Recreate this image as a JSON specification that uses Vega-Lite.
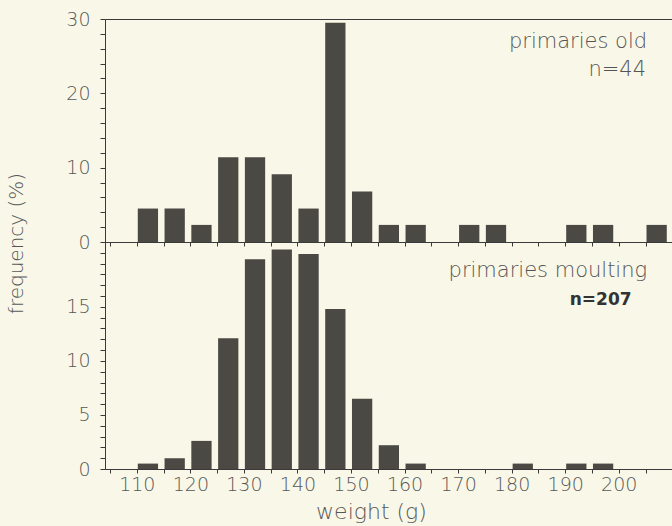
{
  "$schema": "https://vega.github.io/schema/vega-lite/v6.json",
  "background": "#f9f7e7",
  "padding": {"left": 5, "top": 9, "right": 0, "bottom": 5},
  "datasets": {
    "old": [
      {"start": 110, "end": 115, "pct": 4.5},
      {"start": 115, "end": 120, "pct": 4.5},
      {"start": 120, "end": 125, "pct": 2.3},
      {"start": 125, "end": 130, "pct": 11.4},
      {"start": 130, "end": 135, "pct": 11.4},
      {"start": 135, "end": 140, "pct": 9.1},
      {"start": 140, "end": 145, "pct": 4.5},
      {"start": 145, "end": 150, "pct": 29.5},
      {"start": 150, "end": 155, "pct": 6.8},
      {"start": 155, "end": 160, "pct": 2.3},
      {"start": 160, "end": 165, "pct": 2.3},
      {"start": 170, "end": 175, "pct": 2.3},
      {"start": 175, "end": 180, "pct": 2.3},
      {"start": 190, "end": 195, "pct": 2.3},
      {"start": 195, "end": 200, "pct": 2.3},
      {"start": 205, "end": 210, "pct": 2.3}
    ],
    "moult": [
      {"start": 110, "end": 115, "pct": 0.5},
      {"start": 115, "end": 120, "pct": 1.0},
      {"start": 120, "end": 125, "pct": 2.6},
      {"start": 125, "end": 130, "pct": 12.1},
      {"start": 130, "end": 135, "pct": 19.4},
      {"start": 135, "end": 140, "pct": 20.3},
      {"start": 140, "end": 145, "pct": 19.9},
      {"start": 145, "end": 150, "pct": 14.8},
      {"start": 150, "end": 155, "pct": 6.5},
      {"start": 155, "end": 160, "pct": 2.2},
      {"start": 160, "end": 165, "pct": 0.5},
      {"start": 180, "end": 185, "pct": 0.5},
      {"start": 190, "end": 195, "pct": 0.5},
      {"start": 195, "end": 200, "pct": 0.5}
    ],
    "notes_old": [
      {"label": "primaries old", "x": 205.3, "y": 26.9},
      {"label": "n=44", "x": 205.1, "y": 23.1}
    ],
    "notes_moult": [
      {"label": "primaries moulting", "x": 205.3, "y": 18.3}
    ],
    "notes_moult_bold": [
      {"label": "n=207", "x": 202.4, "y": 15.6}
    ]
  },
  "config": {
    "view": {"stroke": "#3a3a3a", "strokeWidth": 1},
    "axis": {
      "domainColor": "#3a3a3a",
      "tickColor": "#3a3a3a",
      "labelColor": "#575757",
      "titleColor": "#575757",
      "labelFont": "DejaVu Sans",
      "titleFont": "DejaVu Sans",
      "labelFontSize": 19,
      "labelFontWeight": 300,
      "titleFontSize": 20,
      "titleFontWeight": 300,
      "labelFlush": false,
      "labelOverlap": false,
      "tickCount": 100,
      "format": "d",
      "grid": false,
      "domainWidth": 1,
      "tickWidth": 1
    }
  },
  "bounds": "flush",
  "spacing": 0,
  "vconcat": [
    {
      "width": 568,
      "height": 223,
      "layer": [
        {
          "data": {"name": "old"},
          "mark": {"type": "bar", "orient": "vertical", "color": "#4a4944", "xOffset": 1, "x2Offset": -5.5},
          "encoding": {
            "x": {
              "field": "start", "type": "quantitative",
              "scale": {"domain": [105, 209.2], "nice": false, "zero": false},
              "axis": {
                "values": [105, 110, 115, 120, 125, 130, 135, 140, 145, 150, 155, 160, 165, 170, 175, 180, 185, 190, 195, 200, 205],
                "tickCount": 100,
                "format": "d",
                "labels": false, "tickSize": 4, "title": null
              }
            },
            "x2": {"field": "end"},
            "y": {
              "field": "pct", "type": "quantitative",
              "scale": {"domain": [0, 30], "nice": false},
              "axis": {
                "values": [0, 2, 4, 6, 8, 10, 12, 14, 16, 18, 20, 22, 24, 26, 28, 30],
                "tickCount": 100,
                "format": "d",
                "tickSize": 5,
                "labelPadding": 10,
                "labelOverlap": false,
                "labelExpr": "datum.value % 10 == 0 ? datum.label : ''",
                "title": "frequency (%)",
                "titleX": -89,
                "titleY": 224,
                "titleAngle": 270,
                "titleAlign": "center",
                "titleBaseline": "middle"
              }
            }
          }
        },
        {
          "data": {"name": "notes_old"},
          "mark": {"type": "text", "align": "right", "baseline": "middle", "font": "DejaVu Sans", "fontSize": 21, "fontWeight": 300, "color": "#555555"},
          "encoding": {
            "x": {"field": "x", "type": "quantitative"},
            "y": {"field": "y", "type": "quantitative"},
            "text": {"field": "label"}
          }
        }
      ]
    },
    {
      "width": 568,
      "height": 227,
      "layer": [
        {
          "data": {"name": "moult"},
          "mark": {"type": "bar", "orient": "vertical", "color": "#4a4944", "xOffset": 1, "x2Offset": -5.5},
          "encoding": {
            "x": {
              "field": "start", "type": "quantitative",
              "scale": {"domain": [105, 209.2], "nice": false, "zero": false},
              "axis": {
                "values": [105, 110, 115, 120, 125, 130, 135, 140, 145, 150, 155, 160, 165, 170, 175, 180, 185, 190, 195, 200, 205],
                "tickCount": 100,
                "format": "d",
                "tickSize": 4,
                "labelPadding": 2,
                "labelDx": 3,
                "labelOverlap": false,
                "labelExpr": "datum.value % 10 == 0 && datum.value >= 110 && datum.value <= 200 ? datum.label : ''",
                "title": "weight (g)",
                "titleFontSize": 22,
                "titleX": 266,
                "titleY": 42,
                "titleBaseline": "middle"
              }
            },
            "x2": {"field": "end"},
            "y": {
              "field": "pct", "type": "quantitative",
              "scale": {"domain": [0, 21], "nice": false},
              "axis": {
                "values": [0, 1, 2, 3, 4, 5, 6, 7, 8, 9, 10, 11, 12, 13, 14, 15, 16, 17, 18, 19, 20],
                "tickCount": 100,
                "format": "d",
                "tickSize": 5,
                "labelPadding": 10,
                "labelOverlap": false,
                "labelExpr": "datum.value % 5 == 0 && datum.value <= 15 ? datum.label : ''",
                "title": null
              }
            }
          }
        },
        {
          "data": {"name": "notes_moult"},
          "mark": {"type": "text", "align": "right", "baseline": "middle", "font": "DejaVu Sans", "fontSize": 21, "fontWeight": 300, "color": "#555555"},
          "encoding": {
            "x": {"field": "x", "type": "quantitative"},
            "y": {"field": "y", "type": "quantitative"},
            "text": {"field": "label"}
          }
        },
        {
          "data": {"name": "notes_moult_bold"},
          "mark": {"type": "text", "align": "right", "baseline": "middle", "font": "DejaVu Sans", "fontSize": 17, "fontWeight": "bold", "color": "#333333"},
          "encoding": {
            "x": {"field": "x", "type": "quantitative"},
            "y": {"field": "y", "type": "quantitative"},
            "text": {"field": "label"}
          }
        }
      ]
    }
  ]
}
